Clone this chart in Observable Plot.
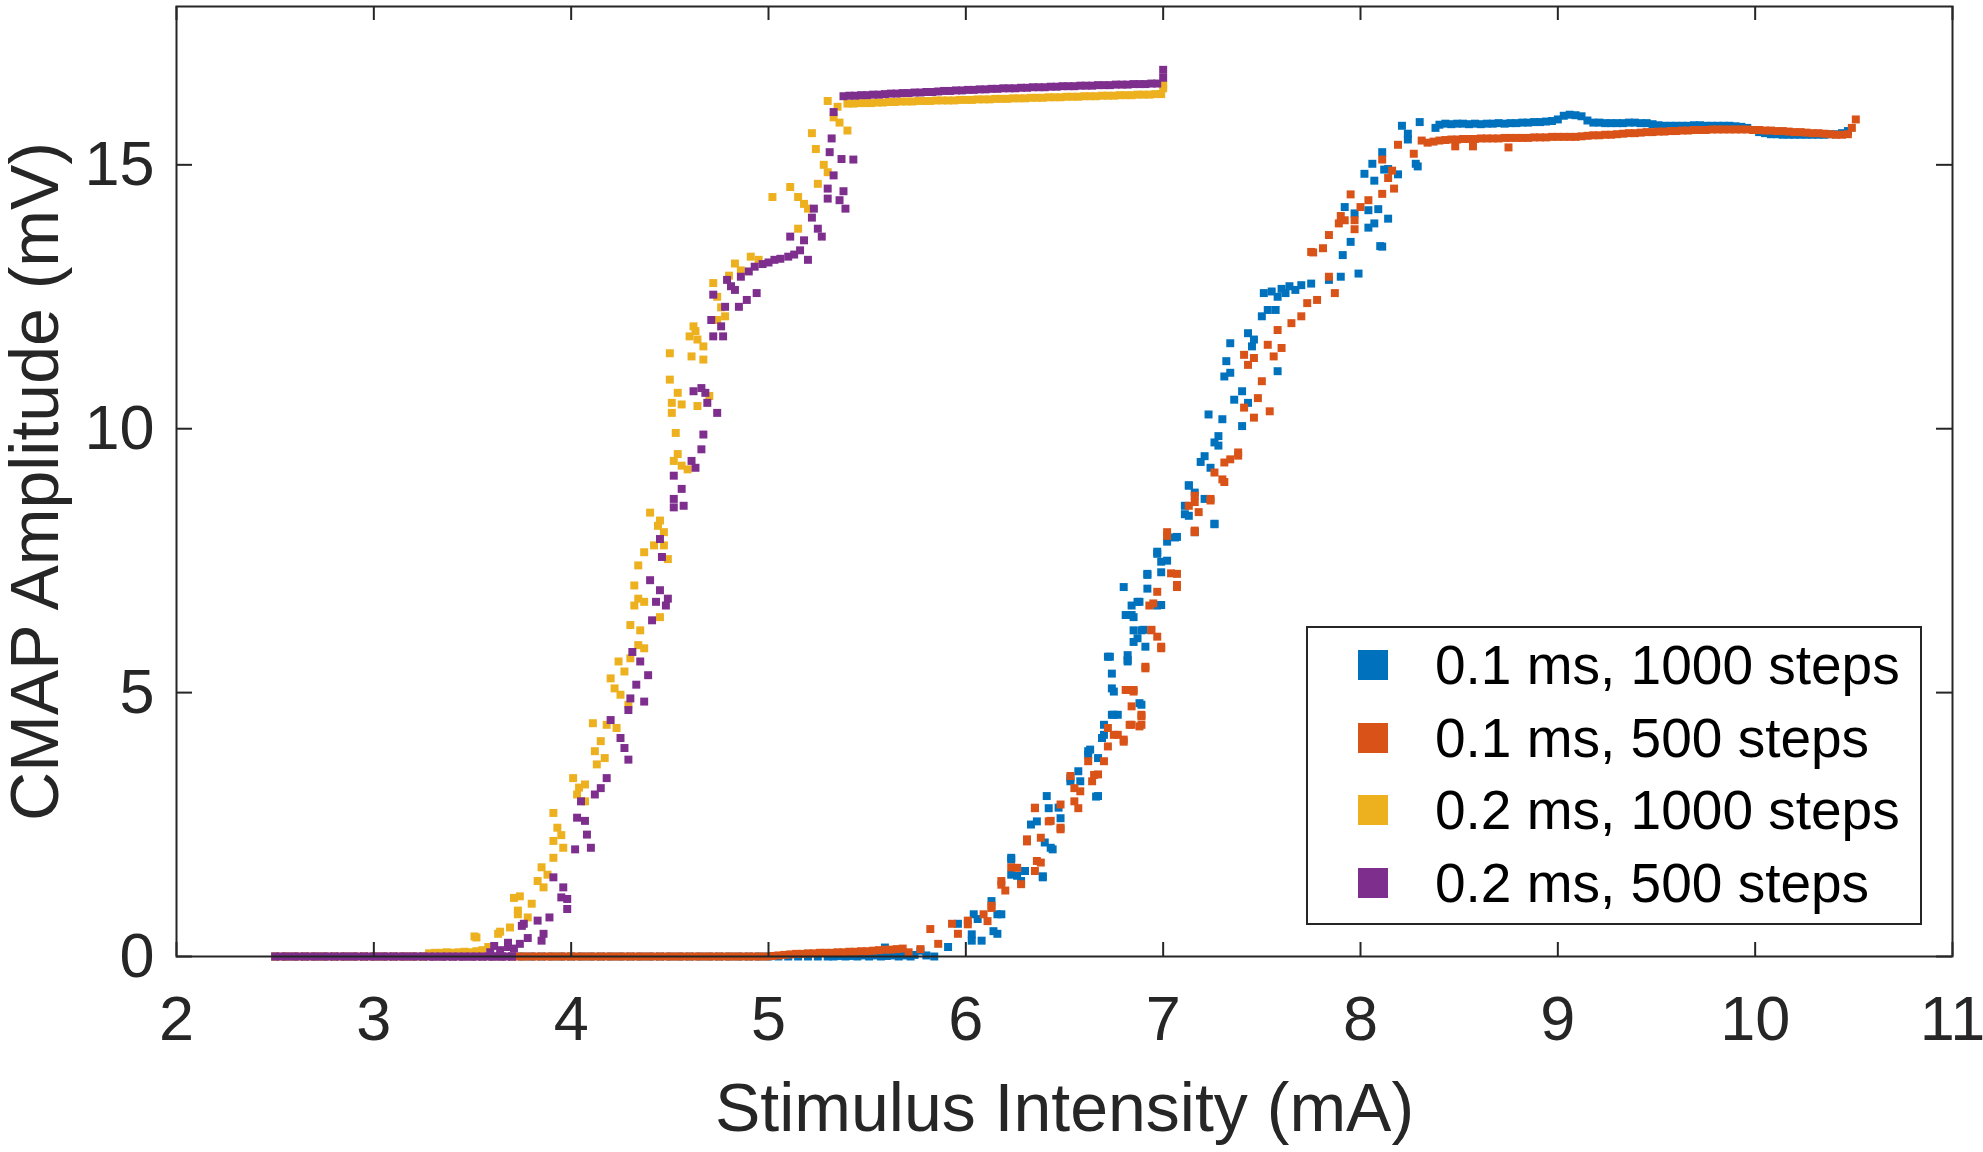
<!DOCTYPE html>
<html>
<head>
<meta charset="utf-8">
<script src="https://cdn.jsdelivr.net/npm/d3@7"></script>
<script src="https://cdn.jsdelivr.net/npm/@observablehq/plot@0.6"></script>
<style>
html, body { margin: 0; padding: 0; background: #fff; }
#wrap { position: relative; width: 1983px; height: 1152px; overflow: hidden; font-family: "Liberation Sans", Arial, sans-serif; }
#legend { position: absolute; left: 1306px; top: 626px; width: 612px; height: 295px; border: 2px solid #262626; background: #fff; }
.row { position: absolute; left: 0; height: 60px; display: flex; align-items: center; }
.sw { width: 30px; height: 30px; margin-left: 50px; margin-right: 47px; }
.lab { font-size: 55px; color: #000; white-space: nowrap; line-height: 60px; }
</style>
</head>
<body>
<div id="wrap"></div>
<script>
// ---- Data ----
const seriesNames = ["0.1 ms, 1000 steps", "0.1 ms, 500 steps", "0.2 ms, 1000 steps", "0.2 ms, 500 steps"];
const xTicks = [2, 3, 4, 5, 6, 7, 8, 9, 10, 11];
const yTicks = [0, 5, 10, 15];
const xLabel = "Stimulus Intensity (mA)";
const yLabel = "CMAP Amplitude (mV)";

// 0.1 ms, 1000 steps
const ms01_1000 = [
[2.50,0],[2.55,0],[2.60,0],[2.65,0],[2.70,0],[2.75,0],[2.80,0],[2.85,0],[2.90,0],[2.95,0],[3.00,0],[3.05,0],[3.10,0],[3.15,0],[3.20,0],[3.25,0],[3.30,0],[3.35,0],[3.40,0],[3.45,0],[3.50,0],[3.55,0],[3.60,0],[3.65,0],[3.70,0],[3.75,0],[3.80,0],[3.85,0],[3.90,0],[3.95,0],[4.00,0],[4.05,0],[4.10,0],[4.15,0],[4.20,0],[4.25,0],[4.30,0],[4.35,0],[4.40,0],[4.45,0],[4.50,0],[4.55,0],[4.60,0],[4.65,0],[4.70,0],[4.75,0],[4.80,0],[4.85,0],[4.90,0],[4.95,0],[5.00,0],[5.05,0],[5.10,0],[5.15,0],[5.20,0],[5.25,0],[5.30,0],
[5.33,0],[5.36,0.01],[5.39,0],[5.42,0.01],[5.45,0],[5.48,0.02],[5.51,0],[5.54,0.02],[5.57,0],[5.59,0.17],[5.60,0.01],[5.63,0.02],[5.65,0.05],[5.66,0],[5.69,0.02],[5.72,0],[5.74,0.03],
[5.77,0.11],[5.80,0.02],[5.84,0],[5.91,0.18],[5.96,0.62],[6.03,0.30],[6.03,0.42],[6.04,0.80],[6.06,0.71],[6.08,0.30],[6.13,1.05],[6.14,0.48],[6.16,0.43],[6.16,0.80],[6.18,0.80],[6.23,1.84],[6.23,1.55],[6.23,1.87],[6.26,1.53],[6.28,1.43],[6.30,1.62],[6.33,2.50],[6.36,2.56],[6.39,1.50],[6.39,1.52],[6.40,2.16],[6.41,3.04],[6.42,2.81],[6.43,2.06],[6.44,2.03],[6.47,2.82],[6.48,2.62],[6.53,3.38],[6.53,3.32],[6.57,3.51],[6.58,3.32],[6.62,3.82],[6.62,3.89],[6.63,3.92],[6.66,3.03],[6.67,3.76],[6.67,3.04],[6.69,4.14],[6.70,4.39],[6.70,4.20],[6.72,5.68],[6.73,5.68],[6.74,5.36],[6.74,5.08],[6.74,4.58],[6.75,5.02],[6.75,4.58],[6.77,4.58],[6.80,7.00],[6.81,6.47],[6.82,5.62],[6.82,5.71],[6.82,5.59],[6.84,6.65],[6.84,6.47],[6.85,6.43],[6.85,6.18],[6.85,5.96],[6.87,6.03],[6.87,6.72],[6.88,6.72],[6.88,4.80],[6.89,6.18],[6.89,4.77],[6.90,6.19],[6.91,5.87],[6.92,7.25],[6.92,6.97],[6.92,7.23],[6.97,7.63],[6.97,7.67],[6.97,6.65],[6.99,7.28],[6.99,7.48],[6.99,6.66],[7.02,7.50],[7.02,7.86],[7.06,7.94],[7.07,7.95],[7.11,8.38],[7.13,8.93],[7.16,8.04],[7.19,9.37],[7.21,8.67],[7.26,8.19],[7.26,8.20],[7.28,9.68],[7.13,8.35],[7.11,8.54],[7.16,8.79],[7.13,8.92],[7.24,9.26],[7.21,9.48],[7.26,9.74],[7.28,9.86],[7.40,10.05],[7.30,10.18],[7.23,10.27],[7.43,10.49],[7.36,10.55],[7.40,10.71],[7.31,10.99],[7.34,11.06],[7.58,11.09],[7.32,11.28],[7.45,11.56],[7.34,11.62],[7.46,11.69],[7.43,11.81],[7.50,12.13],[7.53,12.25],[7.57,12.25],[7.51,12.57],[7.55,12.60],[7.58,12.50],[7.60,12.65],[7.62,12.57],[7.64,12.70],[7.67,12.63],[7.70,12.72],[7.75,12.75],[7.84,12.82],[7.90,12.88],[7.99,12.94],[7.91,13.29],[7.95,13.54],[8.10,13.46],[8.11,13.45],[8.04,13.81],[8.07,13.89],[8.14,13.98],[7.92,14.20],[7.97,14.08],[8.04,14.14],[8.09,14.16],[8.02,14.83],[8.07,14.70],[8.12,14.91],[8.19,14.82],[8.29,14.97],[8.06,15.02],[8.14,14.92],[8.11,15.24],[8.28,15.02],[8.24,15.48],[8.24,15.59],[8.21,15.74],[8.30,15.81],[8.38,15.70],
[8.40,15.76],[8.43,15.78],[8.46,15.77],[8.49,15.78],[8.52,15.78],[8.55,15.77],[8.58,15.78],[8.61,15.77],[8.64,15.78],[8.67,15.78],[8.70,15.79],[8.73,15.78],[8.76,15.79],[8.79,15.79],[8.82,15.80],[8.85,15.80],[8.88,15.81],[8.91,15.81],[8.94,15.82],[8.97,15.83],[9.00,15.86],[9.03,15.93],[9.06,15.95],[9.09,15.94],[9.12,15.92],[9.15,15.84],[9.18,15.80],[9.21,15.80],[9.24,15.79],[9.27,15.79],[9.30,15.79],[9.33,15.79],[9.36,15.80],[9.39,15.80],[9.42,15.79],[9.45,15.79],[9.48,15.77],[9.51,15.75],[9.54,15.74],[9.57,15.74],[9.60,15.74],[9.63,15.74],[9.66,15.74],[9.69,15.75],[9.72,15.75],[9.75,15.74],[9.78,15.74],[9.81,15.74],[9.84,15.74],[9.87,15.74],[9.90,15.73],[9.93,15.72],[9.96,15.70],[9.99,15.66],[10.02,15.62],[10.05,15.60],[10.08,15.58],[10.11,15.58],[10.14,15.57],[10.17,15.57],[10.20,15.57],[10.23,15.57],[10.26,15.57],[10.29,15.57],[10.32,15.57],[10.35,15.57],[10.38,15.58],[10.41,15.58],[10.44,15.60],[10.47,15.64]
];

// 0.1 ms, 500 steps
const ms01_500 = [
[2.50,0],[2.55,0],[2.60,0],[2.65,0],[2.70,0],[2.75,0],[2.80,0],[2.85,0],[2.90,0],[2.95,0],[3.00,0],[3.05,0],[3.10,0],[3.15,0],[3.20,0],[3.25,0],[3.30,0],[3.35,0],[3.40,0],[3.45,0],[3.50,0],[3.55,0],[3.60,0],[3.65,0],[3.70,0],
[3.73,0],[3.76,0],[3.79,0],[3.82,0],[3.85,0],[3.88,0],[3.91,0],[3.94,0],[3.97,0],[4.00,0],[4.03,0],[4.06,0],[4.09,0],[4.12,0],[4.15,0],[4.18,0],[4.21,0],[4.24,0],[4.27,0],[4.30,0],[4.33,0],[4.36,0],[4.39,0],[4.42,0],[4.45,0],[4.48,0],[4.51,0],[4.54,0],[4.57,0],[4.60,0],[4.63,0],[4.66,0],[4.69,0],[4.72,0],[4.75,0],[4.78,0],[4.81,0],[4.84,0],[4.87,0],[4.90,0],[4.93,0],[4.96,0],[4.99,0],[5.02,0.01],[5.05,0.02],[5.08,0.03],
[5.11,0.04],[5.14,0.05],[5.17,0.05],[5.20,0.06],[5.23,0.06],[5.26,0.07],[5.29,0.07],[5.32,0.07],[5.35,0.08],[5.38,0.08],[5.41,0.09],[5.44,0.09],[5.47,0.10],[5.50,0.10],[5.53,0.11],[5.56,0.12],[5.59,0.13],[5.62,0.13],[5.65,0.14],[5.68,0.15],
[5.71,0.08],[5.77,0.14],[5.82,0.52],[5.86,0.24],[5.93,0.62],[5.96,0.43],[6.01,0.68],[6.01,0.61],[6.09,0.80],[6.11,0.67],[6.13,0.96],[6.13,0.92],[6.18,1.43],[6.18,1.36],[6.20,1.25],[6.23,1.69],[6.26,1.68],[6.28,1.37],[6.31,2.22],[6.31,2.18],[6.35,1.62],[6.36,1.81],[6.38,2.25],[6.38,1.78],[6.35,2.82],[6.35,2.81],[6.42,2.56],[6.43,2.57],[6.48,2.41],[6.48,2.44],[6.48,2.88],[6.53,3.42],[6.55,2.94],[6.55,3.19],[6.57,2.81],[6.58,3.13],[6.62,3.70],[6.64,3.32],[6.65,3.44],[6.67,3.45],[6.70,3.70],[6.72,3.98],[6.72,4.33],[6.75,4.20],[6.77,4.20],[6.80,4.11],[6.80,4.07],[6.81,5.05],[6.83,4.39],[6.84,4.74],[6.84,4.39],[6.88,4.36],[6.89,4.58],[6.89,4.55],[6.89,4.39],[6.82,5.05],[6.85,5.02],[6.85,5.05],[6.91,5.49],[6.91,5.46],[6.99,5.84],[6.99,5.87],[6.97,6.06],[6.94,6.18],[6.94,6.19],[6.95,6.69],[6.93,6.65],[6.97,6.91],[7.04,7.26],[7.07,7.04],[7.07,7.00],[7.07,7.25],[7.02,7.97],[7.02,8.04],[7.16,8.04],[7.16,8.07],[7.16,8.61],[7.18,8.42],[7.13,8.54],[7.16,8.73],[7.24,8.67],[7.24,8.64],[7.31,8.99],[7.30,9.04],[7.26,9.17],[7.31,9.36],[7.34,9.42],[7.38,9.49],[7.38,9.55],[7.46,10.21],[7.54,10.33],[7.41,10.40],[7.48,10.58],[7.50,10.90],[7.43,11.21],[7.46,11.34],[7.41,11.40],[7.56,11.37],[7.60,11.53],[7.53,11.59],[7.58,11.87],[7.65,12.00],[7.70,12.13],[7.73,12.38],[7.78,12.44],[7.87,12.57],[7.84,12.88],[7.81,13.42],[7.75,13.35],[7.76,13.34],[7.84,13.67],[7.89,13.89],[7.92,13.95],[7.97,13.95],[7.97,13.78],[7.90,14.03],[7.95,14.44],[8.00,14.20],[8.04,14.33],[8.11,14.45],[8.17,14.55],[8.14,14.75],[8.16,14.89],[8.11,15.10],[8.27,15.21],[8.19,15.38],[8.31,15.46],
[8.34,15.42],[8.37,15.44],[8.40,15.46],[8.43,15.47],[8.46,15.48],[8.48,15.35],[8.49,15.48],[8.52,15.49],[8.55,15.49],[8.57,15.35],[8.58,15.49],[8.61,15.50],[8.64,15.50],[8.67,15.50],[8.70,15.50],[8.73,15.51],[8.75,15.33],[8.76,15.51],[8.79,15.51],[8.82,15.51],[8.85,15.51],[8.88,15.52],[8.91,15.52],[8.94,15.52],[8.97,15.53],[9.00,15.53],[9.03,15.53],[9.06,15.53],[9.09,15.53],[9.12,15.54],[9.15,15.55],[9.18,15.56],[9.21,15.56],[9.24,15.57],[9.27,15.57],[9.30,15.58],[9.33,15.59],[9.36,15.60],[9.39,15.60],[9.42,15.61],[9.45,15.62],[9.48,15.62],[9.51,15.63],[9.54,15.63],[9.57,15.64],[9.60,15.64],[9.63,15.65],[9.66,15.65],[9.69,15.66],[9.72,15.66],[9.75,15.66],[9.78,15.67],[9.81,15.67],[9.84,15.67],[9.87,15.67],[9.90,15.67],[9.93,15.67],[9.96,15.67],[9.99,15.66],[10.02,15.66],[10.05,15.65],[10.08,15.65],[10.11,15.64],[10.14,15.64],[10.17,15.63],[10.20,15.62],[10.23,15.62],[10.26,15.61],[10.29,15.60],[10.32,15.60],[10.35,15.59],[10.38,15.58],[10.41,15.57],[10.44,15.57],[10.47,15.58],[10.49,15.70],[10.51,15.86]
];

// 0.2 ms, 1000 steps
const ms02_1000 = [
[2.50,0],[2.55,0],[2.60,0],[2.65,0],[2.70,0],[2.75,0],[2.80,0],[2.85,0],[2.90,0],[2.95,0],[3.00,0],[3.05,0],[3.10,0],[3.15,0],[3.20,0],[3.25,0],
[3.28,0.06],[3.31,0.07],[3.34,0.07],[3.37,0.08],[3.40,0.07],[3.43,0.08],[3.46,0.09],[3.49,0.08],[3.52,0.10],[3.55,0.12],
[3.51,0.38],[3.52,0.36],[3.58,0.18],[3.63,0.43],[3.64,0.47],[3.69,0.55],[3.71,1.11],[3.73,0.80],[3.74,1.14],[3.73,0.87],[3.78,0.74],[3.80,1.00],[3.83,1.43],[3.85,1.69],[3.86,1.31],[3.88,1.55],[3.91,1.87],[3.91,2.19],[3.93,2.44],[3.91,2.72],[3.96,2.06],[3.95,2.30],[4.01,3.38],[4.03,3.07],[4.04,3.20],[4.07,3.26],[4.07,2.94],[4.11,4.42],[4.12,3.89],[4.13,3.64],[4.15,4.08],[4.17,3.76],[4.18,4.39],[4.20,5.27],[4.22,5.08],[4.23,4.33],[4.24,5.59],[4.25,4.96],[4.27,5.40],[4.29,4.77],[4.30,5.65],[4.30,6.28],[4.32,7.03],[4.32,6.65],[4.34,6.78],[4.34,5.90],[4.34,7.41],[4.35,6.18],[4.37,6.72],[4.37,5.84],[4.37,7.66],[4.40,8.41],[4.42,7.79],[4.44,8.16],[4.45,6.43],[4.45,8.26],[4.47,7.79],[4.47,8.04],[4.49,7.53],[4.52,9.39],[4.53,9.92],[4.54,9.52],[4.56,9.30],[4.59,9.23],[4.51,10.30],[4.51,10.49],[4.54,10.68],[4.56,10.46],[4.64,10.43],[4.70,10.62],[4.50,10.93],[4.50,11.43],[4.61,11.37],[4.62,11.94],[4.64,11.69],[4.67,11.56],[4.67,11.31],[4.60,11.75],[4.63,11.85],[4.74,12.06],[4.78,12.13],[4.72,12.76],[4.74,12.50],[4.76,12.30],[4.80,12.90],[4.83,13.13],[4.86,13.00],[4.91,13.26],[4.95,13.20],[5.02,14.39],[5.11,14.58],[5.15,14.39],[5.15,13.79],[5.18,14.26],[5.20,14.17],[5.25,14.64],[5.30,14.86],[5.28,15.00],[5.24,15.30],[5.22,15.60],[5.33,15.90],[5.36,15.80],[5.40,15.65],[5.30,16.21],[5.35,16.10],
[5.40,16.16],[5.43,16.16],[5.46,16.17],[5.49,16.17],[5.52,16.17],[5.55,16.18],[5.58,16.18],[5.61,16.19],[5.64,16.19],[5.67,16.20],[5.70,16.20],[5.73,16.20],[5.76,16.21],[5.79,16.21],[5.82,16.21],[5.85,16.22],[5.88,16.22],[5.91,16.22],[5.94,16.22],[5.97,16.23],[6.00,16.23],[6.03,16.23],[6.06,16.24],[6.09,16.24],[6.12,16.24],[6.15,16.25],[6.18,16.25],[6.21,16.25],[6.24,16.26],[6.27,16.26],[6.30,16.26],[6.33,16.27],[6.36,16.27],[6.39,16.27],[6.42,16.28],[6.45,16.28],[6.48,16.28],[6.51,16.29],[6.54,16.29],[6.57,16.29],[6.60,16.30],[6.63,16.30],[6.66,16.30],[6.69,16.31],[6.72,16.31],[6.75,16.31],[6.78,16.32],[6.81,16.32],[6.84,16.32],[6.87,16.33],[6.90,16.33],[6.93,16.33],[6.96,16.34],[6.99,16.34],[7.00,16.45],[7.00,16.52]
];

// 0.2 ms, 500 steps
const ms02_500 = [
[2.50,0],[2.53,0],[2.56,0],[2.59,0],[2.62,0],[2.65,0],[2.68,0],[2.71,0],[2.74,0],[2.77,0],[2.80,0],[2.83,0],[2.86,0],[2.89,0],[2.92,0],[2.95,0],[2.98,0],[3.01,0],[3.04,0],[3.07,0],[3.10,0],[3.13,0],[3.16,0],[3.19,0],[3.22,0],[3.25,0],[3.28,0],[3.31,0],[3.34,0],[3.37,0],[3.40,0],[3.43,0],[3.46,0],[3.49,0],[3.52,0],[3.55,0],[3.58,0],[3.61,0],[3.64,0],[3.67,0],[3.70,0],
[3.59,0.08],[3.61,0.20],[3.64,0.12],[3.68,0.18],[3.68,0.26],[3.71,0.15],[3.74,0.24],[3.75,0.58],[3.76,0.62],[3.78,0.35],[3.83,0.68],[3.85,0.30],[3.86,0.43],[3.89,0.74],[3.91,1.50],[3.95,1.12],[3.96,1.31],[3.98,1.09],[3.98,0.90],[4.02,2.03],[4.03,2.63],[4.05,2.94],[4.07,2.57],[4.08,2.31],[4.10,2.06],[4.12,3.07],[4.15,3.19],[4.18,3.38],[4.20,4.48],[4.25,4.14],[4.27,3.95],[4.29,3.73],[4.29,4.67],[4.30,4.89],[4.33,5.15],[4.31,5.77],[4.35,5.59],[4.37,4.83],[4.39,5.33],[4.40,7.13],[4.41,6.37],[4.43,6.72],[4.45,6.94],[4.45,7.91],[4.46,7.57],[4.48,6.65],[4.49,6.78],[4.52,8.51],[4.57,8.54],[4.56,8.86],[4.52,8.67],[4.52,9.11],[4.61,9.39],[4.63,9.26],[4.66,9.61],[4.67,9.89],[4.62,10.71],[4.66,10.77],[4.68,10.68],[4.69,10.49],[4.74,10.30],[4.71,12.06],[4.76,11.94],[4.77,11.75],[4.72,11.75],[4.72,12.54],[4.78,12.31],[4.85,12.31],[4.89,12.44],[4.94,12.57],[4.79,12.82],[4.81,12.70],[4.83,12.63],[4.86,12.88],[4.90,12.98],[4.93,13.07],[4.97,13.12],[5.00,13.15],[5.03,13.20],[5.06,13.22],[5.10,13.26],[5.13,13.30],[5.11,13.64],[5.16,13.38],[5.18,13.57],[5.20,13.20],[5.22,14.00],[5.23,14.17],[5.25,13.79],[5.27,13.64],[5.30,14.36],[5.36,14.33],[5.39,14.17],[5.30,14.55],[5.38,14.50],[5.33,14.80],[5.37,15.11],[5.43,15.10],[5.31,15.24],[5.32,15.50],[5.33,16.00],
[5.38,16.30],[5.41,16.31],[5.44,16.31],[5.47,16.32],[5.50,16.32],[5.53,16.33],[5.56,16.33],[5.59,16.34],[5.62,16.35],[5.65,16.35],[5.68,16.36],[5.71,16.36],[5.74,16.37],[5.77,16.37],[5.80,16.38],[5.83,16.38],[5.86,16.39],[5.89,16.40],[5.92,16.40],[5.95,16.41],[5.98,16.41],[6.01,16.42],[6.04,16.42],[6.07,16.43],[6.10,16.43],[6.13,16.44],[6.16,16.44],[6.19,16.45],[6.22,16.45],[6.25,16.45],[6.28,16.46],[6.31,16.46],[6.34,16.47],[6.37,16.47],[6.40,16.47],[6.43,16.48],[6.46,16.48],[6.49,16.49],[6.52,16.49],[6.55,16.49],[6.58,16.50],[6.61,16.50],[6.64,16.50],[6.67,16.51],[6.70,16.51],[6.73,16.51],[6.76,16.52],[6.79,16.52],[6.82,16.52],[6.85,16.53],[6.88,16.53],[6.91,16.53],[6.94,16.54],[6.97,16.54],[7.00,16.65],[7.00,16.80]
];

// ---- Styles ----
const seriesColors = ["#0072BD", "#D95319", "#EDB120", "#7E2F8E"];
const ink = "#262626";
const W = 1983, H = 1152;
const mL = 176, mR = 31, mT = 6, mB = 196;
const pw = W - mL - mR, ph = H - mT - mB;

const seriesData = [ms01_1000, ms01_500, ms02_1000, ms02_500];
const table = seriesData.flatMap((arr, i) => arr.map(([x, y]) => ({x, y, series: seriesNames[i]})));

const chart = Plot.plot({
  width: W, height: H,
  marginLeft: mL, marginRight: mR, marginTop: mT, marginBottom: mB,
  style: {fontFamily: '"Liberation Sans", Arial, sans-serif', background: "white", color: ink, overflow: "visible"},
  x: {domain: [2, 11]},
  y: {domain: [0, 18]},
  color: {domain: seriesNames, range: seriesColors},
  marks: [
    Plot.dot(table, {x: "x", y: "y", fill: "series", symbol: "square", r: 4.5, stroke: "none"}),
    Plot.frame({stroke: ink, strokeWidth: 2}),
    Plot.tickX(xTicks, {x: d => d, stroke: ink, strokeWidth: 2, insetTop: ph - 14}),
    Plot.tickX(xTicks, {x: d => d, stroke: ink, strokeWidth: 2, insetBottom: ph - 14}),
    Plot.tickY(yTicks, {y: d => d, stroke: ink, strokeWidth: 2, insetRight: pw - 16}),
    Plot.tickY(yTicks, {y: d => d, stroke: ink, strokeWidth: 2, insetLeft: pw - 16}),
    Plot.axisX(xTicks, {tickSize: 0, tickPadding: 39, fontSize: 63, label: null, fill: ink, tickFormat: d => String(d)}),
    Plot.axisY(yTicks, {tickSize: 0, tickPadding: 22, fontSize: 63, label: null, fill: ink, tickFormat: d => String(d)}),
    Plot.text([xLabel], {text: d => d, frameAnchor: "bottom", textAnchor: "middle", lineAnchor: "bottom", dy: 174, fontSize: 68, fill: ink}),
    Plot.text([yLabel], {text: d => d, frameAnchor: "left", textAnchor: "middle", lineAnchor: "bottom", rotate: -90, dx: -119, fontSize: 68, fill: ink})
  ]
});

const wrap = document.getElementById("wrap");
wrap.appendChild(chart);

// Legend (inside the axes, like the original)
const legend = document.createElement("div");
legend.id = "legend";
seriesNames.forEach((name, i) => {
  const row = document.createElement("div");
  row.className = "row";
  row.style.top = (37 + i * 72.7 - 30) + "px";
  const sw = document.createElement("div");
  sw.className = "sw";
  sw.style.background = seriesColors[i];
  const lab = document.createElement("span");
  lab.className = "lab";
  lab.textContent = name;
  row.appendChild(sw);
  row.appendChild(lab);
  legend.appendChild(row);
});
wrap.appendChild(legend);
</script>
</body>
</html>
